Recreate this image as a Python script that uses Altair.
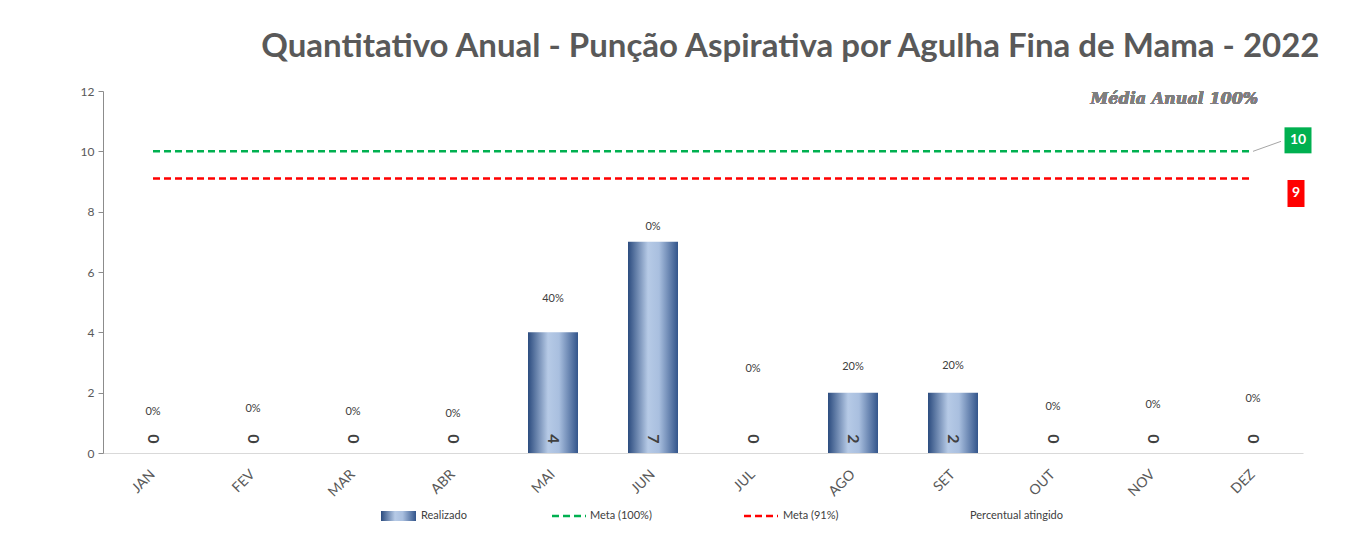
import altair as alt
import pandas as pd

meses = ["JAN", "FEV", "MAR", "ABR", "MAI", "JUN", "JUL", "AGO", "SET", "OUT", "NOV", "DEZ"]
realizado = [0, 0, 0, 0, 4, 7, 0, 2, 2, 0, 0, 0]
meta_100 = [10, 10, 10, 10, 10, 10, 10, 10, 10, 10, 10, 10]
meta_91 = [9.1, 9.1, 9.1, 9.1, 9.1, 9.1, 9.1, 9.1, 9.1, 9.1, 9.1, 9.1]
percentual = ["0%", "0%", "0%", "0%", "40%", "0%", "0%", "20%", "20%", "0%", "0%", "0%"]
# label heights (data units) as placed in the original chart
altura_percentual = [1.35, 1.45, 1.35, 1.28, 5.1, 7.5, 2.8, 2.85, 2.88, 1.52, 1.58, 1.78]
rotulo_meta = ["10", "9"]
titulo = "Quantitativo Anual - Punção Aspirativa por Agulha Fina de Mama - 2022"
subtitulo = "Média Anual 100%"

df = pd.DataFrame({
    "mes": meses,
    "realizado": realizado,
    "meta100": meta_100,
    "meta91": meta_91,
    "pct": percentual,
    "pct_y": altura_percentual,
})

FONT = "Lato"
x_enc = alt.X("mes:N", sort=meses,
              scale=alt.Scale(paddingInner=0.5, paddingOuter=0.25),
              axis=alt.Axis(title=None, labelAngle=-45, labelAlign="right", labelBaseline="middle",
                            labelFontSize=14, labelColor="#595959", labelFont=FONT,
                            domainColor="#d9d9d9", ticks=False, labelPadding=19))
y_scale = alt.Scale(domain=[0, 12], nice=False)
y_axis = alt.Axis(title=None, values=[0, 2, 4, 6, 8, 10, 12], grid=False, labelFontSize=12,
                  labelColor="#595959", labelFont=FONT, domainColor="#8c8c8c", tickColor="#8c8c8c",
                  tickSize=5, labelPadding=4)

base = alt.Chart(df)

grad = alt.Gradient(
    gradient="linear", x1=0, x2=1, y1=0, y2=0,
    stops=[alt.GradientStop(color="#2c4c7f", offset=0),
           alt.GradientStop(color="#b6cae6", offset=0.4),
           alt.GradientStop(color="#a9bfdf", offset=0.62),
           alt.GradientStop(color="#33558b", offset=1)])

bars = base.mark_bar(fill=grad).encode(
    x=x_enc,
    y=alt.Y("realizado:Q", scale=y_scale, axis=y_axis),
)

val_labels = base.mark_text(angle=90, fontSize=16, fontWeight="bold", color="#404040",
                            font=FONT, yOffset=-14).encode(
    x=alt.X("mes:N", sort=meses), y=alt.datum(0), text=alt.Text("realizado:Q"))

pct_labels = base.mark_text(fontSize=11, color="#404040", font=FONT).encode(
    x=alt.X("mes:N", sort=meses), y=alt.Y("pct_y:Q"), text="pct:N")

green_line = base.mark_line(color="#00b050", strokeWidth=2.5, strokeDash=[7, 4]).encode(
    x=alt.X("mes:N", sort=meses), y="meta100:Q")
red_line = base.mark_line(color="#ff0000", strokeWidth=2.5, strokeDash=[7, 4]).encode(
    x=alt.X("mes:N", sort=meses), y="meta91:Q")

last = base.transform_filter(alt.datum.mes == "DEZ")

connector = last.mark_rule(color="#a6a6a6", strokeWidth=1, x2Offset=28, y2Offset=-10).encode(
    x=alt.X("mes:N", sort=meses), x2=alt.X2("mes:N"), y="meta100:Q", y2=alt.Y2("meta100:Q"))

green_box = last.mark_rect(color="#00b050", width=27, height=26, xOffset=45, yOffset=-11).encode(
    x=alt.X("mes:N", sort=meses), y="meta100:Q")
green_txt = last.mark_text(color="white", fontSize=14, fontWeight="bold", font=FONT, dx=45, dy=-11).encode(
    x=alt.X("mes:N", sort=meses), y="meta100:Q", text=alt.value(rotulo_meta[0]))
red_box = last.mark_rect(color="#ff0000", width=17, height=27, xOffset=43, yOffset=15).encode(
    x=alt.X("mes:N", sort=meses), y="meta91:Q")
red_txt = last.mark_text(color="white", fontSize=14, fontWeight="bold", font=FONT, dx=43, dy=15).encode(
    x=alt.X("mes:N", sort=meses), y="meta91:Q", text=alt.value(rotulo_meta[1]))

sub = base.mark_text(text=subtitulo, font="DejaVu Serif", fontStyle="italic", fontWeight="bold",
                     fontSize=16, color="#7f7f7f", align="right", baseline="middle").encode(
    x=alt.value(1155), y=alt.value(8))

# legend (manual)
leg_y = 425
leg_bar = alt.Chart(df).transform_filter(alt.datum.mes == "JAN").mark_rect(fill=grad).encode(
    x=alt.value(278), x2=alt.value(313), y=alt.value(leg_y - 5), y2=alt.value(leg_y + 5))
leg_green = alt.Chart(df).transform_filter(alt.datum.mes == "JAN").mark_rule(
    color="#00b050", strokeWidth=2.5, strokeDash=[7, 4]).encode(
    x=alt.value(449), x2=alt.value(483), y=alt.value(leg_y))
leg_red = alt.Chart(df).transform_filter(alt.datum.mes == "JAN").mark_rule(
    color="#ff0000", strokeWidth=2.5, strokeDash=[7, 4]).encode(
    x=alt.value(641), x2=alt.value(675), y=alt.value(leg_y))
leg_texts = []
for label, xpos in [("Realizado", 318), ("Meta (100%)", 487), ("Meta (91%)", 680), ("Percentual atingido", 867)]:
    leg_texts.append(alt.Chart(df).transform_filter(alt.datum.mes == "JAN").mark_text(
        text=label, align="left", baseline="middle", fontSize=11, color="#404040", font=FONT).encode(
        x=alt.value(xpos), y=alt.value(leg_y)))

chart = alt.layer(
    bars, green_line, red_line, connector, green_box, green_txt, red_box, red_txt,
    val_labels, pct_labels, sub, leg_bar, leg_green, leg_red, *leg_texts
).properties(
    width=1200, height=362,
    background="white",
    title=alt.Title(titulo, anchor="end", dx=8, fontSize=33, font=FONT, fontWeight="bold",
                    color="#595959", offset=21),
    autosize=alt.AutoSizeParams(type="none"),
    padding={"left": 95, "top": 83, "right": 50, "bottom": 70},
).configure_view(stroke=None)

chart.save("out.html", embed_options={"renderer": "svg", "actions": False})
